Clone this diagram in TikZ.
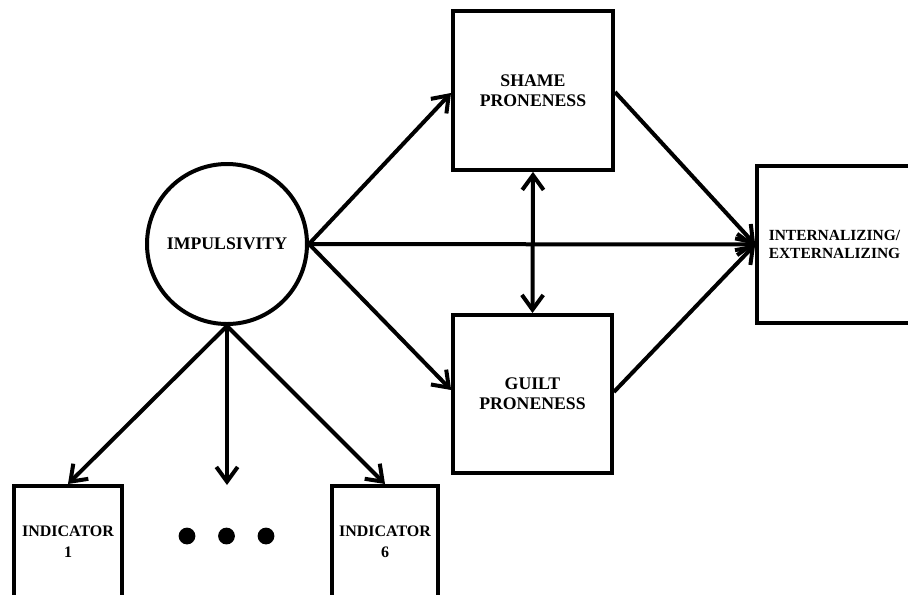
\documentclass[tikz,border=0pt]{standalone}
\usepackage{fontspec}
\setmainfont{Liberation Serif}
\usetikzlibrary{arrows.meta}
\begin{document}
\begin{tikzpicture}[x=0.75pt,y=-0.75pt,
  every node/.style={inner sep=0pt, align=center, font=\bfseries},
  box/.style={draw, line width=3pt, rectangle},
  tip/.tip={Straight Barb[length=11pt,width=16pt,line width=3pt]},
  conn/.style={line width=3pt, -tip},
  big/.style={font=\fontsize{13.3}{15}\selectfont\bfseries},
  mid/.style={font=\fontsize{11.6}{14}\selectfont\bfseries},
  ind/.style={font=\fontsize{12}{16}\selectfont\bfseries}]
\useasboundingbox (0,0) rectangle (908,594);
\clip (0,0) rectangle (908,594);
\node[draw, circle, line width=3pt, minimum size=120pt, big] (imp) at (227,244) {IMPULSIVITY};
\node[box, minimum width=120pt, minimum height=119pt, big] (shame) at (533,90.5) {SHAME\\PRONENESS};
\node[box, minimum width=119pt, minimum height=118.5pt, big] (guilt) at (532.5,394) {GUILT\\PRONENESS};
\node[box, minimum width=116pt, minimum height=118pt, mid] (int) at (834.5,244.5) {INTERNALIZING/\\EXTERNALIZING};
\node[box, minimum width=81pt, minimum height=84pt, ind] (ind1) at (68,542) {INDICATOR\\1};
\node[box, minimum width=79.5pt, minimum height=84pt, ind] (ind6) at (385,542) {INDICATOR\\6};
\fill (187,536) circle (6.3pt) (226.5,536) circle (6.3pt) (266,536) circle (6.3pt);
\coordinate (midend) at (227,485);
\coordinate (shin) at (shame.west |- 0,93);
\coordinate (guin) at (guilt.west |- 0,390);
\coordinate (shout) at (shame.east |- 0,92);
\coordinate (guout) at (guilt.east |- 0,392);
\draw[conn] (imp.east) -- (shin);
\draw[conn] (imp.east) -- (guin);
\draw[conn] (imp.east) -- (int.west);
\draw[conn] (shout) -- (int.west);
\draw[conn] (guout) -- (int.west);
\draw[line width=3pt, tip-tip] (shame.south) -- (guilt.north);
\draw[conn] (imp.south) -- (ind1.north);
\draw[conn] (imp.south) -- (midend);
\draw[conn] (imp.south) -- (ind6.north);
\end{tikzpicture}
\end{document}
